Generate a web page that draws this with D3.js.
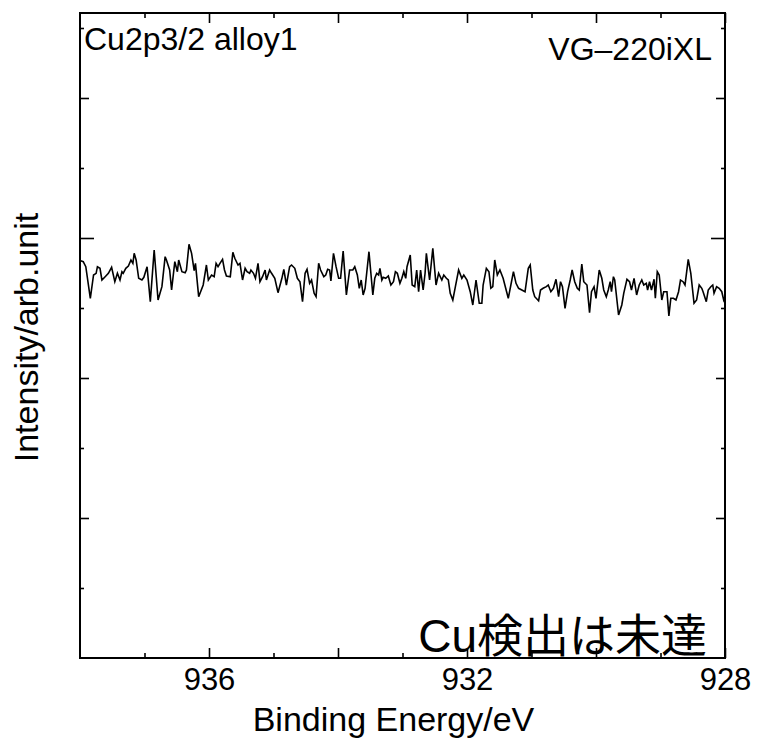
<!DOCTYPE html>
<html>
<head>
<meta charset="utf-8">
<script src="https://cdn.jsdelivr.net/npm/d3@7"></script>
<style>
  body { margin: 0; background: #fff; }
  text { font-family: "Liberation Sans", Arial, "Noto Sans CJK JP", sans-serif; fill: #000; }
</style>
</head>
<body>
<svg width="757" height="739"></svg>
<script>
// binding energy (eV) and intensity (arb. units)
var bindingEnergy = [
  937.99, 937.95, 937.91, 937.84, 937.79, 937.75, 937.73, 937.69, 937.66, 937.61,
  937.56, 937.51, 937.46, 937.42, 937.38, 937.35, 937.33, 937.29, 937.25, 937.21,
  937.18, 937.16, 937.13, 937.09, 937.04, 937.01, 936.96, 936.91, 936.85, 936.79,
  936.73, 936.68, 936.66, 936.61, 936.58, 936.53, 936.49, 936.47, 936.42, 936.37,
  936.35, 936.31, 936.27, 936.23, 936.21, 936.16, 936.09, 936.04, 936.01, 935.96,
  935.92, 935.89, 935.86, 935.83, 935.79, 935.76, 935.73, 935.67, 935.63, 935.60,
  935.55, 935.52, 935.48, 935.44, 935.41, 935.37, 935.35, 935.31, 935.28, 935.24,
  935.21, 935.17, 935.13, 935.11, 935.06, 935.03, 934.98, 934.93, 934.87, 934.84,
  934.80, 934.75, 934.72, 934.67, 934.63, 934.59,
  934.55, 934.51, 934.48, 934.44, 934.41, 934.37, 934.34, 934.30, 934.27, 934.22,
  934.19, 934.16, 934.13, 934.11, 934.07, 934.03, 933.99, 933.96, 933.92, 933.87,
  933.82, 933.77, 933.74, 933.70, 933.67, 933.64, 933.61, 933.58, 933.52, 933.46,
  933.43, 933.40, 933.37, 933.35, 933.32, 933.30, 933.26, 933.22, 933.18, 933.14,
  933.11, 933.08, 933.04, 933.01, 932.98, 932.95, 932.93, 932.88, 932.85, 932.81,
  932.78, 932.75, 932.72, 932.68, 932.65, 932.63, 932.58, 932.53, 932.48, 932.44,
  932.39, 932.36, 932.32, 932.29, 932.26, 932.22, 932.18, 932.13, 932.08, 932.05,
  932.00, 931.95, 931.91, 931.86, 931.81, 931.77, 931.75, 931.70, 931.66, 931.63,
  931.60, 931.57, 931.53, 931.49, 931.44, 931.40, 931.36, 931.32, 931.28, 931.24,
  931.20, 931.15, 931.10, 931.05,
  931.02, 930.98, 930.95, 930.89, 930.86, 930.82, 930.77, 930.74, 930.70, 930.66,
  930.62, 930.58, 930.55, 930.52, 930.48, 930.44, 930.40, 930.37, 930.33, 930.29,
  930.26, 930.22, 930.19, 930.14, 930.10, 930.07, 930.03, 930.00, 929.95, 929.91,
  929.88, 929.84, 929.81, 929.78, 929.76, 929.73, 929.71, 929.65, 929.60, 929.57,
  929.52, 929.48, 929.45, 929.41, 929.37, 929.33, 929.29, 929.26, 929.22, 929.20,
  929.17, 929.14, 929.10, 929.08, 929.05, 929.02, 928.98, 928.95, 928.90, 928.87,
  928.84, 928.80, 928.76, 928.72, 928.69, 928.65, 928.62, 928.57, 928.53, 928.48,
  928.44, 928.40, 928.36, 928.34, 928.29, 928.26, 928.22, 928.19, 928.17, 928.13,
  928.09, 928.05, 928.02, 928.00
];

var intensity = [
  397.3, 396.3, 391.3, 359.7, 383.0, 384.7, 391.3, 389.7, 378.0, 381.3,
  384.7, 390.7, 376.3, 384.7, 378.0, 386.3, 384.7, 389.7, 392.0, 398.0,
  394.7, 404.7, 398.0, 379.7, 378.0, 380.7, 391.3, 356.3, 408.0, 358.0,
  371.3, 401.3, 398.0, 388.0, 368.0, 396.3, 386.3, 398.0, 386.3, 385.3,
  388.0, 413.7, 404.7, 387.3, 394.7, 361.3, 373.0, 393.0, 378.0, 383.0,
  381.3, 394.7, 391.3, 394.7, 398.7, 388.0, 382.0, 381.3, 405.7, 399.7,
  393.0, 394.7, 378.0, 389.7, 386.3, 384.7, 388.0, 384.7, 379.7, 394.7,
  376.3, 381.3, 388.0, 378.0, 388.0, 384.7, 379.7, 365.3, 379.7, 388.7,
  373.0, 391.3, 393.0, 389.7, 379.7, 376.3,
  356.3, 384.7, 388.7, 374.7, 378.0, 364.7, 361.3, 394.7, 388.0, 381.3,
  383.0, 388.7, 388.0, 377.0, 404.7, 391.3, 379.7, 379.7, 407.0, 363.0,
  388.0, 388.0, 391.3, 383.0, 369.7, 378.0, 363.0, 369.7, 406.3, 363.0,
  379.7, 384.7, 383.0, 389.7, 378.0, 380.7, 379.7, 382.0, 373.0, 376.3,
  386.3, 384.7, 374.7, 379.7, 386.3, 379.7, 391.3, 403.0, 373.0, 371.3,
  388.0, 366.3, 388.0, 368.0, 384.7, 404.7, 378.0, 409.7, 373.0, 384.7,
  378.0, 383.0, 379.7, 378.0, 364.7, 358.0, 371.3, 388.0, 379.7, 383.0,
  378.0, 366.3, 353.0, 378.0, 354.7, 354.7, 373.0, 389.7, 386.3, 369.7,
  371.3, 398.0, 383.0, 388.0, 379.7, 369.7, 359.7, 373.0, 386.3, 374.7,
  369.7, 368.0, 366.3, 389.7,
  393.0, 368.0, 361.3, 357.3, 368.0, 369.7, 371.3, 373.0, 366.3, 369.7,
  378.7, 361.3, 376.3, 371.3, 349.7, 366.3, 378.0, 388.0, 376.3, 369.7,
  368.0, 394.0, 376.3, 373.0, 345.3, 366.3, 371.3, 359.7, 388.0, 379.7,
  368.0, 361.3, 368.0, 376.3, 366.3, 381.3, 378.0, 343.0, 353.0, 364.7,
  378.7, 376.3, 368.0, 379.7, 363.0, 373.0, 378.0, 373.0, 374.7, 368.0,
  376.3, 368.0, 378.7, 359.7, 386.3, 383.0, 358.0, 366.3, 366.3, 342.0,
  359.7, 359.7, 358.0, 366.3, 378.0, 376.3, 373.0, 398.7, 384.7, 354.7,
  358.0, 373.0, 369.7, 366.3, 356.3, 368.0, 371.3, 373.0, 364.7, 371.3,
  369.7, 366.3, 358.0, 361.3
];

var xDomain = [938, 928];
var yDomain = [0, 645];
var xMajorTicks = [936, 934, 932, 930, 928];
var xMinorTicks = [937, 935, 933, 931, 929];
var xLabelTicks = [936, 932, 928];
var yMajorTicks = [140, 280, 420, 560];
var yMinorTicks = [70, 210, 350, 490, 630];

var margin = {top: 13, right: 32, bottom: 81, left: 80},
    w = 757 - margin.left - margin.right,
    h = 739 - margin.top - margin.bottom;

var svg = d3.select("svg")
  .append("g")
  .attr("transform", "translate(" + margin.left + "," + margin.top + ")");

var xScale = d3.scaleLinear().domain(xDomain).range([0, w]);
var yScale = d3.scaleLinear().domain(yDomain).range([h, 0]);

function styleAxis(g) {
  g.select(".domain").remove();
  g.selectAll(".tick line").attr("stroke", "#000").attr("stroke-width", 1.6);
}

// bottom: major + minor ticks, labels only every 4 eV
svg.append("g")
  .attr("transform", "translate(0," + h + ")")
  .call(d3.axisBottom(xScale).tickValues(xMajorTicks).tickSizeInner(-10).tickSizeOuter(0)
    .tickPadding(10)
    .tickFormat(function(d) { return xLabelTicks.indexOf(d) >= 0 ? d3.format("d")(d) : ""; }))
  .call(styleAxis)
  .selectAll("text").style("font-size", "31px");

svg.append("g")
  .attr("transform", "translate(0," + h + ")")
  .call(d3.axisBottom(xScale).tickValues(xMinorTicks).tickSizeInner(-5).tickSizeOuter(0).tickFormat(""))
  .call(styleAxis);

// top mirror
svg.append("g")
  .call(d3.axisTop(xScale).tickValues(xMajorTicks).tickSizeInner(-10).tickSizeOuter(0).tickFormat(""))
  .call(styleAxis);
svg.append("g")
  .call(d3.axisTop(xScale).tickValues(xMinorTicks).tickSizeInner(-5).tickSizeOuter(0).tickFormat(""))
  .call(styleAxis);

// left / right ticks (no labels), the 420 tick is drawn longer
[["left", 0, d3.axisLeft], ["right", w, d3.axisRight]].forEach(function(side) {
  svg.append("g")
    .attr("transform", "translate(" + side[1] + ",0)")
    .call(side[2](yScale).tickValues(yMajorTicks).tickSizeOuter(0).tickFormat(""))
    .call(styleAxis)
    .selectAll(".tick line")
    .attr("x2", function(d) {
      var len = d == 420 ? 14 : 9;
      return side[0] == "left" ? len : -len;
    });
  svg.append("g")
    .attr("transform", "translate(" + side[1] + ",0)")
    .call(side[2](yScale).tickValues(yMinorTicks).tickSizeOuter(0).tickFormat(""))
    .call(styleAxis)
    .selectAll(".tick line")
    .attr("x2", side[0] == "left" ? 4 : -4);
});

// frame
svg.append("rect")
  .attr("x", 0).attr("y", 0)
  .attr("width", w).attr("height", h)
  .attr("fill", "none")
  .attr("stroke", "#000")
  .attr("stroke-width", 2);

// spectrum
var points = bindingEnergy.map(function(e, i) { return {e: e, c: intensity[i]}; });

var line = d3.line()
  .x(function(d) { return xScale(d.e); })
  .y(function(d) { return yScale(d.c); });

svg.append("path")
  .datum(points)
  .attr("fill", "none")
  .attr("stroke", "#000")
  .attr("stroke-width", 1.6)
  .attr("d", line);

// labels
svg.append("text")
  .attr("x", 4).attr("y", 37)
  .style("font-size", "32px")
  .text("Cu2p3/2 alloy1");

svg.append("text")
  .attr("x", w - 13).attr("y", 47)
  .attr("text-anchor", "end")
  .style("font-size", "32px")
  .text("VG\u2013220iXL");

svg.append("text")
  .attr("x", w - 18).attr("y", h - 6)
  .attr("text-anchor", "end")
  .style("font-size", "46px")
  .text("Cu検出は未達");

svg.append("text")
  .attr("x", w / 2 - 9)
  .attr("y", h + 73)
  .attr("text-anchor", "middle")
  .style("font-size", "34px")
  .text("Binding Energy/eV");

svg.append("text")
  .attr("transform", "rotate(-90)")
  .attr("x", -(h / 2 + 2))
  .attr("y", -42)
  .attr("text-anchor", "middle")
  .style("font-size", "34px")
  .text("Intensity/arb.unit");
</script>
</body>
</html>
